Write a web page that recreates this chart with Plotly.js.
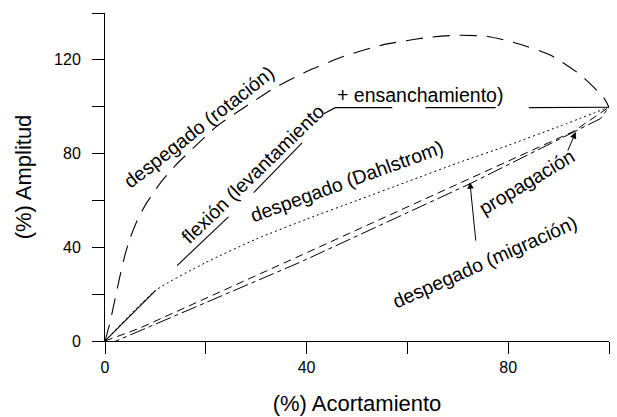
<!DOCTYPE html>
<html>
<head>
<meta charset="utf-8">
<script src="https://cdn.plot.ly/plotly-3.0.1.min.js"></script>
<style>html,body{margin:0;padding:0;background:#fff;}#chart{width:617px;height:417px;}</style>
</head>
<body>
<div id="chart"></div>
<script>
// ---- data ----
var rotX = [0, 1, 2, 3, 4, 5, 6.4, 8, 11, 14, 17.6, 22.2, 28, 34, 40, 47.4, 55.3, 63.9, 70, 76, 81.8, 88.4, 94.4, 99, 100];
var rotY = [0, 8, 18, 28, 37, 44, 51.5, 58, 67.5, 75, 82.5, 91.7, 100.2, 108.5, 115, 121.5, 126.5, 129.5, 130.5, 130, 127, 122, 113.5, 103.7, 99.8];

var flexX = [0, 10, null, 14.3, 24.5, null, 29.5, 39.1, null, 43.4, 45.7, 57, null, 63.6, 77.5, null, 84.1, 100];
var flexY = [0, 21.5, null, 32.2, 53, null, 63.3, 84.6, null, 97.0, 99.6, 99.6, null, 99.6, 99.6, null, 99.6, 99.8];

var dahlX = [0, 10, 20, 30, 40, 50, 60, 70, 80, 90, 100];
var dahlY = [0, 21.5, 33.5, 43.5, 52, 60, 68, 76, 83.5, 91.5, 99.8];

var propX = [0, 6.7, 38.1, 72.5, 93, 100];
var propY = [0, 5.3, 35.8, 69.3, 89.5, 99.8];

var migX = [0, 1, 38.8, 72.5, 98.3, 100];
var migY = [-2.5, -1.1, 33.7, 67.2, 94.9, 99.8];

var xTickVals = [0, 20, 40, 60, 80, 100];
var xTickText = ['0', '', '40', '', '80', ''];
var yTickVals = [0, 20, 40, 60, 80, 100, 120, 140];
var yTickText = ['0', '', '40', '', '80', '', '120', ''];

var labels = ['despegado (rotación)', 'flexión (levantamiento', '+ ensanchamiento)', 'despegado (Dahlstrom)', 'propagación', 'despegado (migración)'];
var labelX = [18.6, 29.3, 62.4, 48.0, 83.6, 75.2];
var labelY = [91.2, 71.3, 104.9, 68.2, 67.9, 33.7];
var labelAngle = [-38, -44, 0, -20, -31, -24];

// arrows: tail -> head
var arrowTailX = [73.6, 91.7];
var arrowTailY = [42.2, 80.6];
var arrowHeadX = [72.4, 93.4];
var arrowHeadY = [67.8, 89.2];

var FONT = "'Liberation Sans', Arial, sans-serif";

function line(x, y, dash, w, spline) {
  var ln = {color: '#000', width: w, dash: dash};
  if (spline) { ln.shape = 'spline'; ln.smoothing = 0.6; }
  return {x: x, y: y, type: 'scatter', mode: 'lines', hoverinfo: 'skip',
          connectgaps: false, line: ln};
}

var traces = [
  line(rotX, rotY, '17px,10px', 1.1, true),
  line(flexX, flexY, 'solid', 1.1, false),
  line(dahlX, dahlY, '2px,3px', 1, true),
  line(propX, propY, '8px,5px', 1, false),
  line(migX, migY, '16px,4px,4px,4px', 1, false)
];

var annotations = [];
for (var i = 0; i < labels.length; i++) {
  annotations.push({x: labelX[i], y: labelY[i], xref: 'x', yref: 'y', text: labels[i],
    showarrow: false, textangle: labelAngle[i], xanchor: 'center', yanchor: 'middle',
    font: {family: FONT, size: 19.5, color: '#000'}});
}
for (var j = 0; j < arrowTailX.length; j++) {
  annotations.push({x: arrowHeadX[j], y: arrowHeadY[j], xref: 'x', yref: 'y',
    ax: arrowTailX[j], ay: arrowTailY[j], axref: 'x', ayref: 'y', text: '',
    showarrow: true, arrowhead: 2, arrowsize: 1.3, arrowwidth: 1, arrowcolor: '#000'});
}

var layout = {
  width: 617, height: 417,
  margin: {l: 105, r: 8, t: 13, b: 76, pad: 0},
  paper_bgcolor: '#fff', plot_bgcolor: '#fff',
  showlegend: false,
  xaxis: {
    range: [0, 100], showgrid: false, zeroline: false,
    showline: true, linecolor: '#000', linewidth: 1,
    ticks: 'outside', ticklen: 12, tickwidth: 1, tickcolor: '#000',
    tickvals: xTickVals, ticktext: xTickText,
    tickfont: {family: FONT, size: 16, color: '#000'},
    title: {text: '(%) Acortamiento', font: {family: FONT, size: 22, color: '#000'}, standoff: 20}
  },
  yaxis: {
    range: [0, 140], showgrid: false, zeroline: false,
    showline: true, linecolor: '#000', linewidth: 1,
    ticks: 'outside', ticklen: 12, tickwidth: 1, tickcolor: '#000',
    tickvals: yTickVals, ticktext: yTickText, ticklabelstandoff: 8,
    tickfont: {family: FONT, size: 16, color: '#000'},
    title: {text: '(%) Amplitud', font: {family: FONT, size: 22, color: '#000'}, standoff: 16}
  },
  annotations: annotations
};

Plotly.newPlot('chart', traces, layout, {staticPlot: true, displayModeBar: false});
</script>
</body>
</html>
